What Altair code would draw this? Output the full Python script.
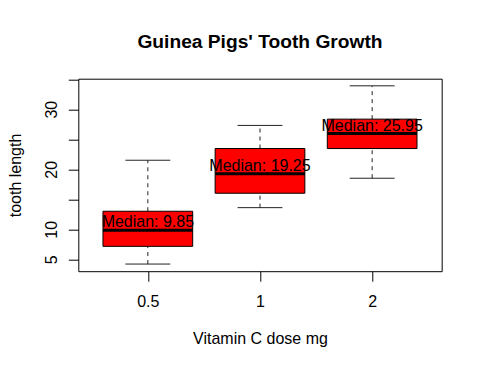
import altair as alt
import pandas as pd

# ---- data ----
doses = ["0.5", "1", "2"]
lower_whisker = [4.2, 13.6, 18.5]
lower_hinge = [7.15, 16.0, 23.45]
medians = [9.85, 19.25, 25.95]
upper_hinge = [13.0, 23.45, 28.35]
upper_whisker = [21.5, 27.3, 33.9]
y_tick_values = [5, 10, 15, 20, 25, 30, 35]
y_label_values = [5, 10, 20, 30]

df = pd.DataFrame({
    "dose": doses,
    "pos": list(range(1, len(doses) + 1)),
    "lw": lower_whisker,
    "lh": lower_hinge,
    "med": medians,
    "uh": upper_hinge,
    "uw": upper_whisker,
})

n = len(doses)
x_dom = [0.5 - 0.04 * n, n + 0.5 + 0.04 * n]
ymin, ymax = min(lower_whisker), max(upper_whisker)
span = ymax - ymin
y_dom = [ymin - 0.04 * span, ymax + 0.04 * span]

W, H = 363.4, 192.5
FONT = "Liberation Sans"

label_expr = "[" + ",".join(f"'{d}'" for d in doses) + "][datum.value - 1]"
y_label_expr = "indexof([" + ",".join(str(v) for v in y_label_values) + "], datum.value) >= 0 ? datum.label : ''"

xs = alt.Scale(domain=x_dom, nice=False, zero=False)
ys = alt.Scale(domain=y_dom, nice=False, zero=False)

base = alt.Chart(df).transform_calculate(
    left="datum.pos - 0.4",
    right="datum.pos + 0.4",
    capl="datum.pos - 0.2",
    capr="datum.pos + 0.2",
    label="'Median: ' + datum.med",
)

x_axis = alt.Axis(
    values=[1, 2, 3], labelExpr=label_expr, grid=False, domain=False,
    tickCount=20,
    tickSize=10, tickColor="black", labelFont=FONT, labelFontSize=16,
    labelColor="black", labelBaseline="alphabetic", labelPadding=25.7,
    labelOverlap=False,
    title="Vitamin C dose mg", titleFont=FONT, titleFontSize=16,
    titleFontWeight="normal", titleColor="black", titleBaseline="alphabetic",
    titleX=W / 2, titleY=72.7, titleAlign="center",
)
y_axis = alt.Axis(
    values=y_tick_values, labelExpr=y_label_expr, grid=False, domain=False,
    tickCount=20,
    tickSize=10, tickColor="black", labelFont=FONT, labelFontSize=16,
    labelColor="black", labelAngle=270, labelAlign="center",
    labelBaseline="alphabetic", labelPadding=12.3, labelOverlap=False,
    labelFlush=False,
    title="tooth length", titleFont=FONT, titleFontSize=16,
    titleFontWeight="normal", titleColor="black", titleAngle=270,
    titleAlign="center", titleBaseline="alphabetic",
    titleX=-57.8, titleY=H / 2,
)

dash_low = base.mark_rule(color="#222", strokeDash=[4, 4], strokeWidth=1).encode(
    x=alt.X("pos:Q", scale=xs, axis=x_axis),
    y=alt.Y("lw:Q", scale=ys, axis=y_axis),
    y2="lh:Q",
)
dash_high = base.mark_rule(color="#222", strokeDash=[4, 4], strokeWidth=1).encode(
    x="pos:Q", y="uh:Q", y2="uw:Q",
)
cap_low = base.mark_rule(color="#222", strokeWidth=1).encode(
    x="capl:Q", x2="capr:Q", y="lw:Q",
)
cap_high = base.mark_rule(color="#222", strokeWidth=1).encode(
    x="capl:Q", x2="capr:Q", y="uw:Q",
)
box = base.mark_rect(fill="#FF0000", stroke="black", strokeWidth=1).encode(
    x="left:Q", x2="right:Q", y="lh:Q", y2="uh:Q",
)
med = base.mark_rule(color="black", strokeWidth=3).encode(
    x="left:Q", x2="right:Q", y="med:Q",
)
txt = base.mark_text(font=FONT, fontSize=16, color="black", align="center",
                     baseline="alphabetic", dy=-3).encode(
    x="pos:Q", y="med:Q", text="label:N",
)

chart = alt.layer(dash_low, dash_high, cap_low, cap_high, box, med, txt).properties(
    width=W, height=H,
    title=alt.TitleParams(
        "Guinea Pigs' Tooth Growth", font=FONT, fontSize=19.2, fontWeight="bold",
        color="black", anchor="middle", baseline="alphabetic", offset=11,
    ),
    autosize=alt.AutoSizeParams(type="none"),
    padding={"left": 70.3, "top": 70.7, "right": 32, "bottom": 90},
    background="white",
).configure_view(stroke="black", strokeWidth=1)

chart.save("out.html", embed_options={"renderer": "svg", "actions": False})
